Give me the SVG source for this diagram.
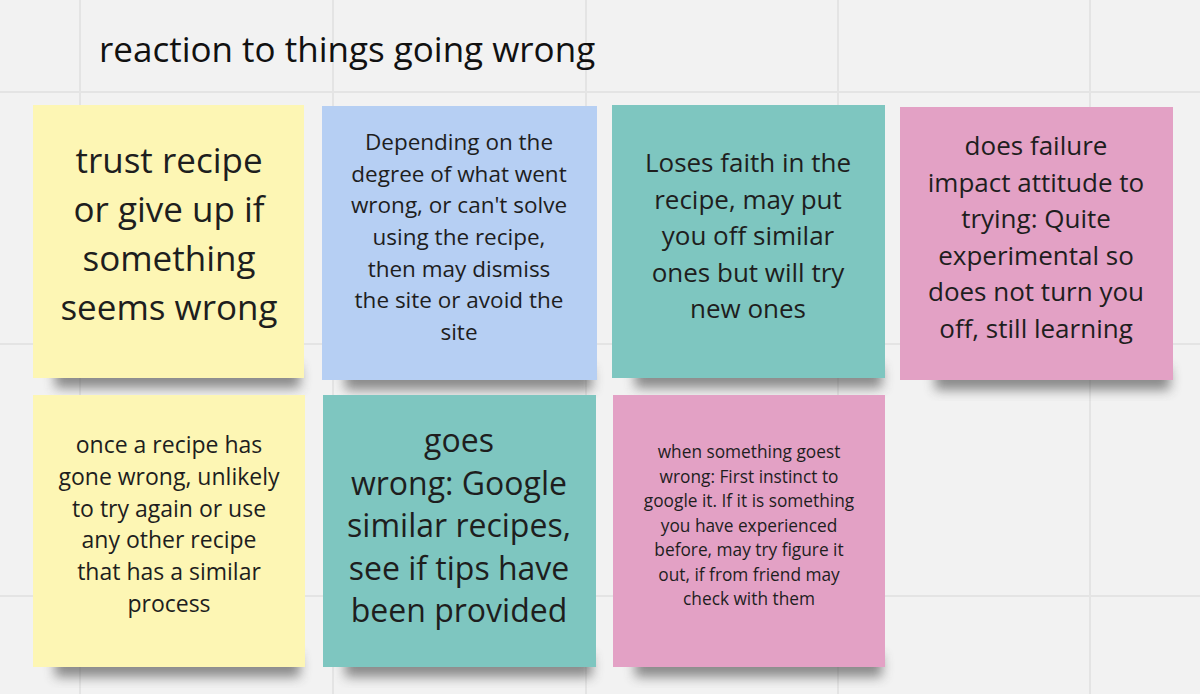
<svg xmlns="http://www.w3.org/2000/svg" width="1200" height="694" viewBox="0 0 1200 694">
<defs>
<filter id="sh" x="-20%" y="-50%" width="140%" height="200%"><feGaussianBlur stdDeviation="6"/></filter>
</defs>
<style>
.grid{stroke:#e4e4e4;stroke-width:2}
.t{font-family:"Open Sans","Noto Sans",sans-serif;text-anchor:middle;fill:#1e1e1e}
.yel{fill:#fdf6b4}.blu{fill:#b6cff3}.tea{fill:#7ec6c0}.pnk{fill:#e3a1c5}
.shd{fill:#444;opacity:0.6}
</style>
<rect width="1200" height="694" fill="#f2f2f2"/>
<g id="grid">
<line class="grid" x1="80" y1="0" x2="80" y2="694"/>
<line class="grid" x1="333" y1="0" x2="333" y2="694"/>
<line class="grid" x1="586" y1="0" x2="586" y2="694"/>
<line class="grid" x1="838" y1="0" x2="838" y2="694"/>
<line class="grid" x1="1090" y1="0" x2="1090" y2="694"/>
<line class="grid" x1="0" y1="92" x2="1200" y2="92"/>
<line class="grid" x1="0" y1="344" x2="1200" y2="344"/>
<line class="grid" x1="0" y1="596" x2="1200" y2="596"/>
</g>
<text id="title" x="99" y="62" style="font-family:'Open Sans','Noto Sans',sans-serif;font-size:35px;fill:#111">reaction to things going wrong</text>
<g id="connectors"/>
<g id="n1">
<rect class="shd" x="55" y="366" width="245" height="22" filter="url(#sh)"/>
<rect class="yel" x="33" y="105" width="271" height="273"/>
<text class="t" font-size="35"><tspan x="169" y="173">trust recipe</tspan><tspan x="169" y="222">or give up if</tspan><tspan x="169" y="271">something</tspan><tspan x="169" y="320">seems wrong</tspan></text>
</g>
<g id="n2">
<rect class="shd" x="345" y="368" width="247" height="22" filter="url(#sh)"/>
<rect class="blu" x="322" y="106" width="275" height="274"/>
<text class="t" font-size="22.5" fill="#333"><tspan x="459" y="150">Depending on the</tspan><tspan x="459" y="182">degree of what went</tspan><tspan x="459" y="213">wrong, or can't solve</tspan><tspan x="459" y="245">using the recipe,</tspan><tspan x="459" y="277">then may dismiss</tspan><tspan x="459" y="308">the site or avoid the</tspan><tspan x="459" y="340">site</tspan></text>
</g>
<g id="n3">
<rect class="shd" x="635" y="366" width="247" height="22" filter="url(#sh)"/>
<rect class="tea" x="612" y="105" width="273" height="273"/>
<text class="t" font-size="26"><tspan x="748" y="172">Loses faith in the</tspan><tspan x="748" y="208.5">recipe, may put</tspan><tspan x="748" y="245">you off similar</tspan><tspan x="748" y="281.5">ones but will try</tspan><tspan x="748" y="318">new ones</tspan></text>
</g>
<g id="n4">
<rect class="shd" x="935" y="368" width="235" height="22" filter="url(#sh)"/>
<rect class="pnk" x="900" y="107" width="273" height="273"/>
<text class="t" font-size="26"><tspan x="1036" y="155">does failure</tspan><tspan x="1036" y="191.6">impact attitude to</tspan><tspan x="1036" y="228.2">trying: Quite</tspan><tspan x="1036" y="264.8">experimental so</tspan><tspan x="1036" y="301.4">does not turn you</tspan><tspan x="1036" y="338">off, still learning</tspan></text>
</g>
<g id="n5">
<rect class="shd" x="55" y="655" width="245" height="22" filter="url(#sh)"/>
<rect class="yel" x="33" y="395" width="272" height="272"/>
<text class="t" font-size="23"><tspan x="169" y="453">once a recipe has</tspan><tspan x="169" y="485">gone wrong, unlikely</tspan><tspan x="169" y="517">to try again or use</tspan><tspan x="169" y="548">any other recipe</tspan><tspan x="169" y="580">that has a similar</tspan><tspan x="169" y="612">process</tspan></text>
</g>
<g id="n6">
<rect class="shd" x="345" y="655" width="247" height="22" filter="url(#sh)"/>
<rect class="tea" x="323" y="395" width="273" height="272"/>
<text class="t" font-size="32"><tspan x="459" y="452">goes</tspan><tspan x="459" y="494.5">wrong: Google</tspan><tspan x="459" y="537">similar recipes,</tspan><tspan x="459" y="579.5">see if tips have</tspan><tspan x="459" y="622">been provided</tspan></text>
</g>
<g id="n7">
<rect class="shd" x="635" y="655" width="247" height="22" filter="url(#sh)"/>
<rect class="pnk" x="613" y="395" width="272" height="272"/>
<text class="t" font-size="17.3" fill="#333"><tspan x="749" y="458">when something goest</tspan><tspan x="749" y="482.5">wrong: First instinct to</tspan><tspan x="749" y="507">google it. If it is something</tspan><tspan x="749" y="531.5">you have experienced</tspan><tspan x="749" y="556">before, may try figure it</tspan><tspan x="749" y="580.5">out, if from friend may</tspan><tspan x="749" y="605">check with them</tspan></text>
</g>
</svg>
